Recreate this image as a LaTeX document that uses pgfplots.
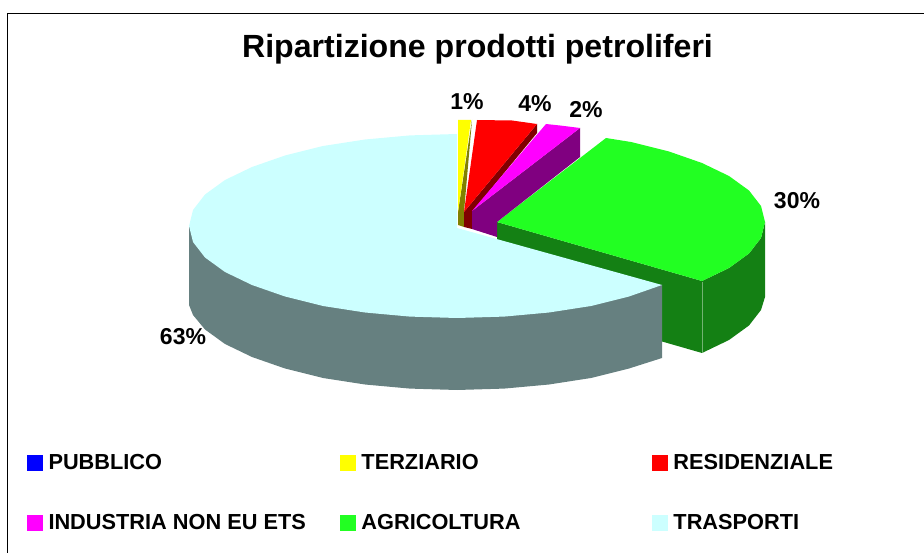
\documentclass[border=0pt]{standalone}
\usepackage{fontspec}
\setmainfont{Liberation Sans}
\usepackage{pgfplots}
\pgfplotsset{compat=1.18}
\definecolor{cTer}{HTML}{FFFF00}\definecolor{cTerD}{HTML}{808000}
\definecolor{cRes}{HTML}{FF0000}\definecolor{cResD}{HTML}{800000}
\definecolor{cInd}{HTML}{FF00FF}\definecolor{cIndD}{HTML}{800080}
\definecolor{cAgr}{HTML}{22FF22}\definecolor{cAgrD}{HTML}{148014}
\definecolor{cTra}{HTML}{CCFFFF}\definecolor{cTraD}{HTML}{668080}
\definecolor{cPub}{HTML}{0000FF}
\newcommand{\lab}[3]{\node[font=\fontsize{23}{23}\selectfont\bfseries,anchor=center] at (axis cs:#1,#2) {#3};}
\begin{document}
\begin{tikzpicture}
\path[use as bounding box] (0,0) rectangle (924pt,553pt);
\begin{axis}[
  at={(0,0)}, anchor=south west,
  scale only axis, width=924pt, height=553pt,
  xmin=0, xmax=924, ymin=0, ymax=553, y dir=reverse,
  axis lines=none, clip=true,
  legend columns=3,
  legend cell align=left,
  legend style={draw=none, fill=none, at={(axis cs:27,454.5)}, anchor=north west,
    inner sep=0pt, outer sep=0pt,
    font=\fontsize{21.75}{21.75}\selectfont\bfseries,
    row sep=43pt,
    nodes={inner sep=0pt},
    /tikz/every even column/.style={column sep=0pt}},
  legend image code/.code={\fill[#1, draw=none] (0pt,-8pt) rectangle (16.5pt,8pt); \path[draw=none, fill=none] (0pt,0pt) rectangle (21.5pt,0pt);},
]
% frame
\addplot[black, line width=1.5pt, forget plot] coordinates {(7.5,553) (7.5,13.5) (924,13.5)};
% Agricoltura sides
\addplot[fill=cAgrD, draw=none, forget plot] coordinates {(497,222) (702,281) (702,353) (497,294)} -- cycle;
\addplot[fill=cAgrD, draw=none, forget plot] coordinates {(702,281) (729,268) (749,253.5) (761,238) (765,222) (765,297) (761,310) (749,325.5) (729,340) (702,353)} -- cycle;
\addplot[color=cAgrD!60!white, line width=0.6pt, forget plot] coordinates {(702,282) (702,353)};
% Trasporti
\addplot[fill=cTraD, draw=none, forget plot] coordinates {(189,226) (189,305) (193,315) (205,329.5) (225,344) (252,357) (285,368.5) (323,378) (365,384.5) (410,388.6) (457,390) (504,388.6) (549,384.5) (591,378) (629,368.5) (662,358) (662,285)} -- cycle;
\addplot[fill=cTra, draw=none, forget plot] coordinates {(457,134) (410,135.4) (365,139.5) (323,146) (285,155.5) (252,167) (225,180) (205,194.5) (193,210) (189,226) (193,242) (205,257.5) (225,272) (252,285) (285,296.5) (323,306) (365,312.5) (410,316.6) (457,318) (504,316.6) (549,312.5) (591,306) (629,296.5) (662,285) (457,228)} -- cycle;
% Agricoltura top
\addplot[fill=cAgr, draw=none, forget plot] coordinates {(497,222) (606,138) (631,142) (669,151.5) (702,163) (729,176) (749,190.5) (761,206) (765,222) (761,238) (749,253.5) (729,268) (702,281)} -- cycle;
% Terziario
\addplot[fill=cTerD, draw=none, forget plot] coordinates {(472,120) (464,212) (464,227) (458,225) (458,212)} -- cycle;
\addplot[fill=cTer, draw=none, forget plot] coordinates {(458,120) (471,120) (458,212)} -- cycle;
% Residenziale
\addplot[fill=cResD, draw=none, forget plot] coordinates {(537,124) (537,133) (472,212) (472,229) (464,227) (464,212)} -- cycle;
\addplot[fill=cRes, draw=none, forget plot] coordinates {(477,120) (512,120.5) (537,124) (464,212)} -- cycle;
% Industria
\addplot[fill=cIndD, draw=none, forget plot] coordinates {(580,128) (580,157) (497,222) (497,237) (472,229) (472,211)} -- cycle;
\addplot[fill=cInd, draw=none, forget plot] coordinates {(546,124) (560,125.5) (580,128) (472,211)} -- cycle;
% legend
\addlegendimage{fill=cPub}\addlegendentry{\makebox[291.5pt][l]{PUBBLICO}}
\addlegendimage{fill=cTer}\addlegendentry{\makebox[290.5pt][l]{TERZIARIO}}
\addlegendimage{fill=cRes}\addlegendentry{\makebox[200pt][l]{RESIDENZIALE}}
\addlegendimage{fill=cInd}\addlegendentry{\makebox[291.5pt][l]{INDUSTRIA NON EU ETS}}
\addlegendimage{fill=cAgr}\addlegendentry{\makebox[290.5pt][l]{AGRICOLTURA}}
\addlegendimage{fill=cTra}\addlegendentry{\makebox[200pt][l]{TRASPORTI}}
% labels
\node[font=\fontsize{32.1}{32}\selectfont\bfseries,anchor=center] at (axis cs:477.5,49.5) {Ripartizione prodotti petroliferi};
\lab{467}{102}{1\%}
\lab{535}{104}{4\%}
\lab{586}{110}{2\%}
\lab{797}{201}{30\%}
\lab{183}{337}{63\%}
\end{axis}
\end{tikzpicture}
\end{document}
